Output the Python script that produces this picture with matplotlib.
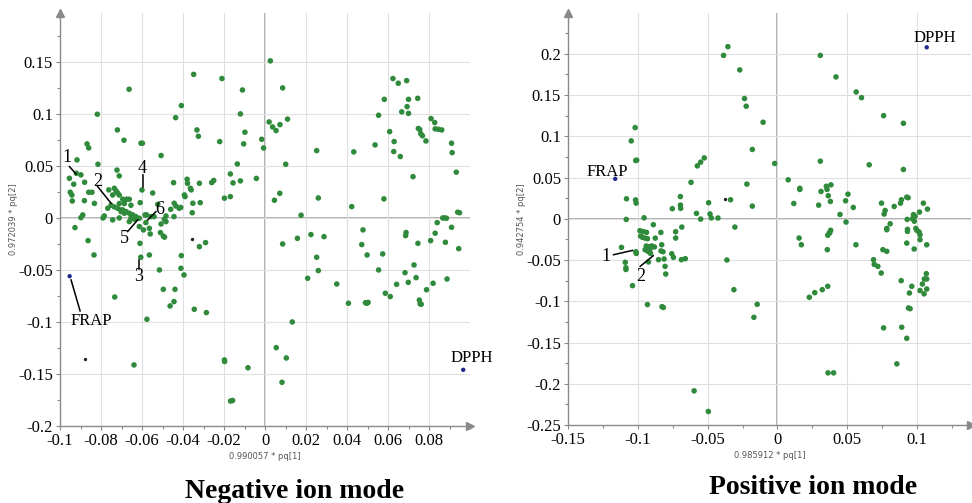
import numpy as np
import matplotlib
matplotlib.use("Agg")
import matplotlib.pyplot as plt
from matplotlib.ticker import FixedLocator, MultipleLocator

# Negative ion mode, green variables (pq[1], pq[2])
neg_pts = np.array([
    (0.0026, 0.151), (0.0086, 0.125), (-0.0663, 0.1237), (-0.0348, 0.138), (-0.021, 0.134),
    (-0.011, 0.123), (-0.0408, 0.108), (-0.0818, 0.0997), (-0.012, 0.1), (-0.0436, 0.0964),
    (0.002, 0.0923), (0.0037, 0.0875), (0.0054, 0.084), (0.0073, 0.0897), (0.011, 0.095),
    (-0.072, 0.0846), (-0.0332, 0.0846), (-0.0325, 0.0785), (-0.0098, 0.0824), (-0.0688, 0.0747),
    (-0.0221, 0.0734), (-0.0016, 0.0756), (-0.0104, 0.0712), (-0.0605, 0.0718), (-0.0598, 0.0718),
    (-0.0868, 0.0712), (-0.086, 0.0673), (-0.0007, 0.0673), (0.0101, 0.0516), (-0.0815, 0.0516),
    (-0.0135, 0.0519), (-0.0507, 0.06), (-0.0917, 0.0558),
    (-0.092, 0.0429), (-0.0898, 0.0414), (-0.0954, 0.0381), (-0.088, 0.0343), (-0.0933, 0.0324),
    (-0.095, 0.0247), (-0.0942, 0.022), (-0.086, 0.0247), (-0.0844, 0.0247), (-0.094, 0.0163),
    (-0.0881, 0.0166), (-0.0832, 0.014), (-0.0889, 0.0029), (-0.0898, 0.0003), (-0.0927, -0.0093),
    (-0.0863, -0.0218), (-0.0834, -0.0356), (-0.079, 0.0), (-0.0722, 0.046), (-0.0711, 0.0404),
    (-0.0762, 0.027), (-0.0735, 0.0285), (-0.0727, 0.0262), (-0.0719, 0.024), (-0.0711, 0.022),
    (-0.0743, 0.0221), (-0.0694, 0.018), (-0.0675, 0.018), (-0.0662, 0.018), (-0.0654, 0.0122),
    (-0.0686, 0.0138), (-0.0711, 0.0138), (-0.0735, 0.0106), (-0.0719, 0.0093), (-0.0702, 0.0077),
    (-0.0751, 0.0122), (-0.0767, 0.0093), (-0.0694, 0.0077), (-0.0678, 0.0061), (-0.0662, 0.0045),
    (-0.0646, 0.003), (-0.063, 0.0013), (-0.0613, -0.0003), (-0.0637, -0.0013), (-0.0654, 0.0),
    (-0.0702, 0.0061), (-0.0686, 0.0045), (-0.0784, 0.0019), (-0.0743, -0.0019), (-0.0711, 0.0),
    (-0.0662, -0.0035), (-0.06, 0.0269), (-0.0548, 0.024), (-0.0523, 0.0131), (-0.0609, 0.0147),
    (-0.0585, 0.0029), (-0.0578, 0.0029), (-0.0557, 0.0013), (-0.0541, 0.0013), (-0.0581, -0.0045),
    (-0.0564, -0.01), (-0.0613, -0.0083), (-0.0593, -0.0115), (-0.0507, -0.0058), (-0.0491, -0.0013),
    (-0.0483, -0.0035), (-0.051, -0.0141), (-0.0496, -0.0175), (-0.049, -0.0185), (-0.056, -0.0154),
    (-0.0443, 0.0141), (-0.0435, 0.0115), (-0.0419, 0.0093), (-0.0411, 0.0101), (-0.046, 0.0083),
    (-0.0446, 0.0339), (-0.0444, 0.0013), (-0.0483, 0.0019), (-0.038, 0.0372), (-0.0378, 0.0333),
    (-0.0393, 0.0221), (-0.039, 0.0205), (-0.0364, 0.0285), (-0.036, 0.027), (-0.0352, 0.0141),
    (-0.0355, 0.005), (-0.032, 0.0333), (-0.0316, 0.0147), (-0.026, 0.034), (-0.025, 0.036),
    (-0.0198, 0.019), (-0.0169, 0.0205), (-0.0169, 0.0423), (-0.0156, 0.0337), (-0.012, 0.0356),
    (-0.0042, 0.038),
    (-0.061, -0.0244), (-0.0606, -0.0378), (-0.0564, -0.0356), (-0.0515, -0.05), (-0.0496, -0.0686),
    (-0.0439, -0.0686), (-0.0444, -0.0804), (-0.0463, -0.0846), (-0.0408, -0.0362), (-0.041, -0.0484),
    (-0.0395, -0.0548), (-0.0345, -0.0878), (-0.032, -0.0276), (-0.029, -0.0237), (-0.0286, -0.091),
    (-0.0198, -0.1365), (-0.0197, -0.138), (-0.0168, -0.176), (-0.0158, -0.1755), (-0.0083, -0.144),
    (-0.0733, -0.076), (-0.0639, -0.1413), (-0.0576, -0.0974),
    (0.0055, -0.1247), (0.0086, -0.025), (0.0104, -0.1346), (0.0083, -0.158), (0.0133, -0.1),
    (0.0046, 0.017), (0.0072, 0.0237), (0.0176, 0.0026), (0.0158, -0.0196), (0.0224, -0.016),
    (0.0288, -0.018), (0.0252, 0.0647), (0.026, 0.0192), (0.0252, -0.0378), (0.026, -0.0506),
    (0.0208, -0.058), (0.035, -0.0635), (0.0407, -0.082), (0.0423, 0.0109), (0.0433, 0.0635),
    (0.0478, -0.0115), (0.0472, -0.0256), (0.0498, -0.0356), (0.049, -0.0815), (0.0497, -0.082),
    (0.0503, -0.0812), (0.0537, 0.0702), (0.0554, 0.0987), (0.0554, -0.05), (0.0574, -0.0346),
    (0.0582, 0.114), (0.058, 0.0183), (0.0587, -0.0724), (0.0608, 0.083), (0.0611, -0.0756),
    (0.0624, 0.134), (0.0628, 0.0638), (0.063, 0.0734), (0.0642, -0.0638), (0.065, 0.1295),
    (0.066, 0.059), (0.0667, 0.102), (0.0683, -0.0526), (0.0688, -0.014), (0.0686, -0.017),
    (0.0691, 0.132), (0.0693, 0.107), (0.07, 0.114), (0.0699, -0.0619), (0.07, 0.1005),
    (0.0722, 0.0397), (0.0727, -0.0452), (0.0737, -0.0574), (0.0745, 0.115), (0.0746, -0.0244),
    (0.0748, 0.086), (0.0755, 0.085), (0.0753, -0.079), (0.0757, -0.0825), (0.0762, -0.083),
    (0.076, 0.081), (0.0768, 0.079), (0.0785, 0.074), (0.0788, -0.069), (0.0808, -0.0218),
    (0.081, 0.0955), (0.082, -0.0628), (0.0828, 0.0917), (0.083, 0.0856), (0.0846, 0.0852),
    (0.0862, 0.0846), (0.083, -0.0147), (0.084, -0.0045), (0.0867, 0.0), (0.0876, 0.0),
    (0.0885, -0.0003), (0.088, -0.0234), (0.0888, -0.0587), (0.091, 0.0718), (0.0913, 0.0628),
    (0.0933, 0.044), (0.094, 0.0055), (0.0949, 0.005), (0.091, -0.009), (0.0945, -0.0295),
])
neg_blue = {"FRAP": (-0.0953, -0.056), "DPPH": (0.0967, -0.146)}
neg_dark = np.array([(-0.0356, -0.0199), (-0.088, -0.136)])

# Positive ion mode
pos_pts = np.array([
    (-0.0355, 0.2086), (-0.0386, 0.198), (-0.027, 0.1804), (-0.0236, 0.1457), (-0.0224, 0.1364),
    (-0.0103, 0.117), (-0.018, 0.084), (-0.0219, 0.042), (-0.018, 0.0153), (-0.002, 0.067),
    (0.0307, 0.198), (0.0419, 0.1719), (0.0564, 0.1537), (0.0602, 0.1468), (0.076, 0.125),
    (0.0902, 0.1157), (0.0902, 0.0597), (0.0307, 0.0698), (0.0657, 0.0654),
    (-0.1019, 0.1105), (-0.1047, 0.0944), (-0.1015, 0.0706), (-0.1008, 0.071), (-0.1081, 0.0242),
    (-0.1016, 0.0228), (-0.1012, 0.019), (-0.1083, -0.0008), (-0.0955, 0.0012), (-0.0985, -0.0145),
    (-0.0961, -0.0155), (-0.0938, -0.0165), (-0.0889, -0.0072), (-0.0875, -0.0235), (-0.0729, -0.0157),
    (-0.0753, 0.0122), (-0.0693, 0.0126), (-0.0695, 0.0269), (-0.0695, 0.0166), (-0.0685, -0.0101),
    (-0.0619, 0.0441), (-0.0574, 0.0641), (-0.055, 0.0686), (-0.0524, 0.0738), (-0.058, 0.0065),
    (-0.055, -0.0004), (-0.0493, 0.0194), (-0.0483, 0.0058), (-0.0474, 0.001), (-0.0426, 0.0009),
    (-0.0336, 0.023), (-0.0305, -0.0101),
    (0.0077, 0.0472), (0.0117, 0.0185), (0.016, 0.0369), (0.016, 0.0355), (0.0295, 0.0165),
    (0.0312, 0.0331), (0.035, 0.0394), (0.0355, 0.0355), (0.0383, 0.0411), (0.0364, 0.0279),
    (0.0379, 0.021), (0.0505, 0.0298), (0.0488, 0.0218), (0.0543, 0.0137), (0.0448, 0.0052),
    (0.0491, -0.004), (0.0372, -0.017), (0.0381, -0.014), (0.0155, -0.0234), (0.0171, -0.0315),
    (0.0745, 0.0189), (0.0771, 0.01), (0.0764, 0.0057), (0.0836, 0.0149), (0.0881, 0.0189),
    (0.0888, 0.023), (0.0926, 0.0262), (0.0936, 0.0255), (0.1045, 0.0189), (0.1074, 0.0117),
    (0.1017, 0.0081), (0.0974, 0.005), (0.0986, 0.003), (0.0967, 0.0), (0.0929, -0.0008),
    (0.098, -0.003), (0.0807, -0.0061), (0.0783, -0.0117), (0.0931, -0.0129), (0.0991, -0.0117),
    (0.1014, -0.016), (0.1021, -0.0194), (0.1021, -0.0254), (0.0783, -0.0133), (0.0931, -0.0153),
    (0.0926, -0.0295), (0.0979, -0.0367), (0.1069, -0.0315),
    (-0.1117, -0.0347), (-0.109, -0.0528), (-0.1085, -0.0594), (-0.1085, -0.0615), (-0.1038, -0.0811),
    (-0.1014, -0.04), (-0.1011, -0.042), (-0.098, -0.021), (-0.0967, -0.0225), (-0.095, -0.0234),
    (-0.0931, -0.0242), (-0.0948, -0.0375), (-0.0928, -0.0395), (-0.0912, -0.0365), (-0.09, -0.033),
    (-0.0881, -0.0342), (-0.094, -0.033), (-0.092, -0.0338), (-0.0909, -0.042), (-0.0835, -0.0166),
    (-0.0829, -0.0315), (-0.0834, -0.039), (-0.082, -0.04), (-0.0812, -0.0488), (-0.0805, -0.0577),
    (-0.08, -0.067), (-0.0757, -0.0424), (-0.0745, -0.0468), (-0.0729, -0.0234), (-0.0688, -0.0496),
    (-0.066, -0.0484), (-0.0924, -0.0524), (-0.0852, -0.0496), (-0.0931, -0.104), (-0.0827, -0.1066),
    (-0.0817, -0.1075), (-0.0597, -0.2086), (-0.0495, -0.2336), (-0.0362, -0.05), (-0.0312, -0.086),
    (-0.0145, -0.1037), (-0.0169, -0.1195),
    (0.0228, -0.0952), (0.0267, -0.0896), (0.0321, -0.086), (0.036, -0.0819), (0.0357, -0.0375),
    (0.036, -0.02), (0.0374, -0.0173), (0.0362, -0.1868), (0.0402, -0.1868), (0.0562, -0.0315),
    (0.0688, -0.0496), (0.0693, -0.0553), (0.0719, -0.0577), (0.0743, -0.0658), (0.0755, -0.0375),
    (0.0783, -0.0395), (0.076, -0.1323), (0.0886, -0.075), (0.089, -0.1315), (0.0855, -0.1759),
    (0.0926, -0.1449), (0.0998, -0.0141), (0.1038, -0.0791), (0.0962, -0.0819), (0.0945, -0.09),
    (0.0938, -0.1082), (0.095, -0.109), (0.1021, -0.087), (0.105, -0.091), (0.1066, -0.0666),
    (0.1069, -0.073), (0.1052, -0.073), (0.1069, -0.0852),
])
pos_blue = {"FRAP": (-0.1162, 0.0484), "DPPH": (0.1069, 0.2078)}
pos_dark = np.array([(-0.0374, 0.0238)])

# tick positions
neg_xticks = [-0.1, -0.08, -0.06, -0.04, -0.02, 0, 0.02, 0.04, 0.06, 0.08]
neg_yticks = [-0.2, -0.15, -0.1, -0.05, 0, 0.05, 0.1, 0.15]
pos_xticks = [-0.15, -0.1, -0.05, 0, 0.05, 0.1]
pos_yticks = [-0.25, -0.2, -0.15, -0.1, -0.05, 0, 0.05, 0.1, 0.15, 0.2]

GREEN = "#2f8a3b"
BLUE = "#1f2a8a"
AXGRAY = "#8a8a8a"
SERIF = "Liberation Serif"


def style_axes(ax, xticks, yticks, xminor, yminor, xlab, ylab):
    for s in ("top", "right"):
        ax.spines[s].set_visible(False)
    for s in ("left", "bottom"):
        ax.spines[s].set_color(AXGRAY)
        ax.spines[s].set_linewidth(1.0)
    ax.xaxis.set_major_locator(FixedLocator(xticks))
    ax.yaxis.set_major_locator(FixedLocator(yticks))
    ax.set_xticklabels([f"{v:g}" for v in xticks])
    ax.set_yticklabels([f"{v:g}" for v in yticks])
    ax.xaxis.set_minor_locator(MultipleLocator(xminor))
    ax.yaxis.set_minor_locator(MultipleLocator(yminor))
    ax.tick_params(which="both", direction="out", color=AXGRAY, width=0.8)
    ax.tick_params(which="major", length=3, pad=2, labelsize=12)
    ax.tick_params(which="minor", length=2)
    for lab in ax.get_xticklabels() + ax.get_yticklabels():
        lab.set_fontfamily(SERIF)
    ax.grid(True, which="major", color="#e0e0e0", lw=0.8, zorder=0)
    ax.axhline(0, color="#a9a9a9", lw=1.3, zorder=1)
    ax.axvline(0, color="#a9a9a9", lw=1.3, zorder=1)
    ax.set_xlabel(xlab, fontsize=6, color="#555555", labelpad=2)
    ax.set_ylabel(ylab, fontsize=6, color="#555555", labelpad=0)
    # arrow heads on the axes
    ax.plot(0, 1, marker="^", ms=6, color=AXGRAY, transform=ax.transAxes, clip_on=False, zorder=5)
    ax.plot(1, 0, marker=">", ms=6, color=AXGRAY, transform=ax.transAxes, clip_on=False, zorder=5)


fig = plt.figure(figsize=(9.72, 5.03), dpi=100)

# ---- Negative ion mode ----
ax1 = fig.add_axes([60 / 972, 1 - 426 / 503, 410 / 972, 413 / 503])
ax1.set_xlim(-0.1, 0.1)
ax1.set_ylim(-0.2, 0.197)
style_axes(ax1, neg_xticks, neg_yticks, 0.01, 0.025, "0.990057 * pq[1]", "0.972039 * pq[2]")
ax1.scatter(neg_pts[:, 0], neg_pts[:, 1], s=16, color=GREEN, edgecolors="none", zorder=3)
ax1.scatter(neg_dark[:, 0], neg_dark[:, 1], s=2, color="#222222", zorder=3)
for name, (bx, by) in neg_blue.items():
    ax1.scatter(bx, by, s=10, color=BLUE, edgecolors="none", zorder=4, clip_on=False)

lbl = dict(fontfamily=SERIF, fontsize=13, ha="center", va="center", zorder=6)
ax1.text(-0.0966, 0.0577, "1", **lbl)
ax1.plot([-0.0954, -0.0922], [0.0494, 0.0423], color="k", lw=1.1, zorder=6)
ax1.text(-0.0816, 0.0349, "2", **lbl)
ax1.plot([-0.0816, -0.0751], [0.0301, 0.0141], color="k", lw=1.1, zorder=6)
ax1.text(-0.0597, 0.0478, "4", **lbl)
ax1.plot([-0.0597, -0.0597], [0.0413, 0.0301], color="k", lw=1.1, zorder=6)
ax1.text(-0.0515, 0.0077, "6", **lbl)
ax1.plot([-0.0532, -0.0572], [0.0061, -0.0019], color="k", lw=1.1, zorder=6)
ax1.text(-0.0686, -0.0196, "5", **lbl)
ax1.plot([-0.067, -0.0621], [-0.0131, -0.0019], color="k", lw=1.1, zorder=6)
ax1.text(-0.0615, -0.0564, "3", **lbl)
ax1.plot([-0.0615, -0.0615], [-0.0404, -0.049], color="k", lw=1.1, zorder=6)
ax1.text(-0.0849, -0.0987, "FRAP", fontfamily=SERIF, fontsize=12, ha="center", va="center", zorder=6)
ax1.plot([-0.0946, -0.0902], [-0.0596, -0.0894], color="k", lw=1.1, zorder=6)
ax1.text(0.101, -0.1346, "DPPH", fontfamily=SERIF, fontsize=12, ha="center", va="center",
         zorder=6, clip_on=False)

# ---- Positive ion mode ----
ax2 = fig.add_axes([568 / 972, 1 - 425 / 503, 403 / 972, 412 / 503])
ax2.set_xlim(-0.15, 0.1386)
ax2.set_ylim(-0.25, 0.2494)
style_axes(ax2, pos_xticks, pos_yticks, 0.025, 0.025, "0.985912 * pq[1]", "0.942754 * pq[2]")
ax2.scatter(pos_pts[:, 0], pos_pts[:, 1], s=16, color=GREEN, edgecolors="none", zorder=3)
ax2.scatter(pos_dark[:, 0], pos_dark[:, 1], s=2, color="#222222", zorder=3)
for name, (bx, by) in pos_blue.items():
    ax2.scatter(bx, by, s=10, color=BLUE, edgecolors="none", zorder=4)

ax2.text(-0.1221, 0.0569, "FRAP", fontfamily=SERIF, fontsize=12, ha="center", va="center", zorder=6)
ax2.text(0.1129, 0.219, "DPPH", fontfamily=SERIF, fontsize=12, ha="center", va="center", zorder=6)
ax2.text(-0.1229, -0.0456, "1", **lbl)
ax2.plot([-0.1174, -0.1038], [-0.0436, -0.0384], color="k", lw=1.1, zorder=6)
ax2.text(-0.0979, -0.0699, "2", **lbl)
ax2.plot([-0.0983, -0.089], [-0.0577, -0.0448], color="k", lw=1.1, zorder=6)

# panel captions
fig.text(295 / 972, 1 - 492 / 503, "Negative ion mode", fontfamily=SERIF, fontsize=20,
         fontweight="bold", ha="center", va="center")
fig.text(813 / 972, 1 - 488 / 503, "Positive ion mode", fontfamily=SERIF, fontsize=20,
         fontweight="bold", ha="center", va="center")

fig.savefig("out.png", dpi=100)
